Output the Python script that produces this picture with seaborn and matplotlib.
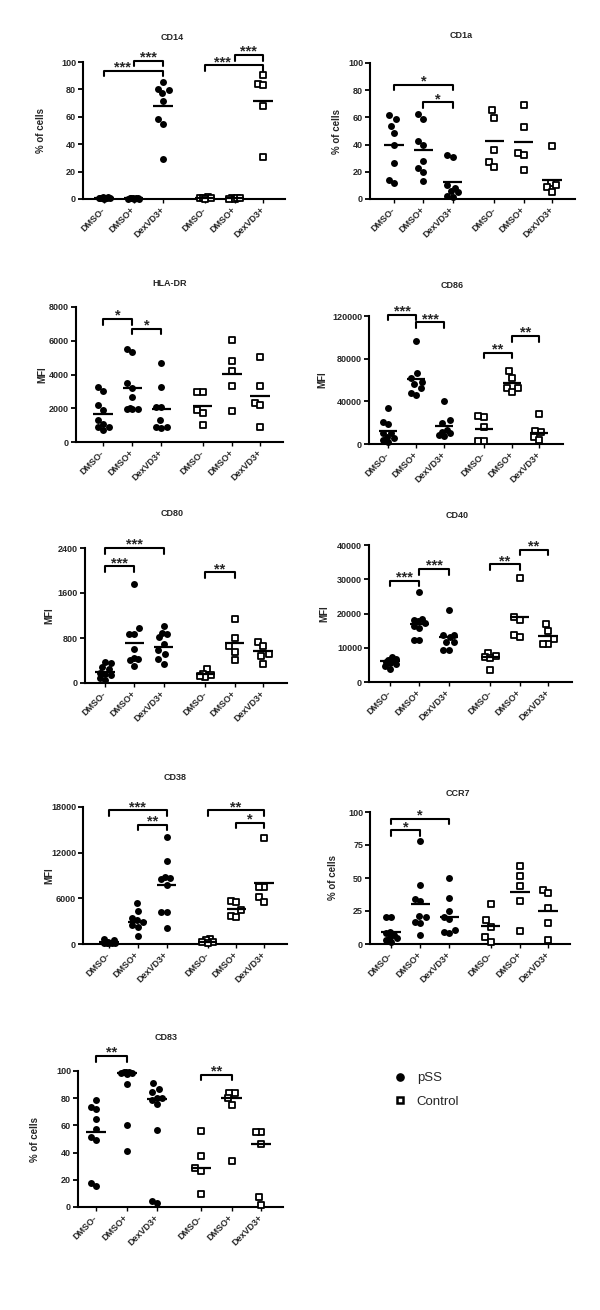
import warnings
warnings.filterwarnings("ignore")
import numpy as np
import pandas as pd
import matplotlib
matplotlib.use("Agg")
import matplotlib.pyplot as plt
from matplotlib.lines import Line2D
import seaborn as sns

CONDITIONS = ["DMSO-", "DMSO+", "DexVD3+"]
GROUPS = ["pSS", "Control"]

# ---------------- data ----------------
CD14_PSS = [[1.5, 0.5, 1.0, 0.3, 0.8, 1.2, 0.4, 0.6],
            [0.5, 0.3, 0.8, 0.2, 0.6, 0.4, 0.7, 0.3],
            [85.5, 80.0, 79.4, 77.5, 71.7, 58.4, 55.0, 29.3]]
CD14_CTRL = [[1.5, 0.8, 0.5, 1.0, 0.3],
             [0.5, 0.3, 0.2, 0.6, 0.4],
             [90.3, 84.3, 83.0, 68.0, 30.5]]
CD14_LINES = [0.9, 0.5, 67.8, 0.8, 0.4, 71.7]
CD14_TICKS = [0, 20, 40, 60, 80, 100]
CD14_SIG = [(0, 2, 93.5, "***"), (1, 2, 101.0, "***"), (3, 5, 97.6, "***"), (4, 5, 105.0, "***")]

CD1A_PSS = [[59, 62, 54, 48.5, 40, 26.5, 11.8, 13.7],
            [62.5, 59, 42.4, 39.5, 27.7, 22.8, 19.9, 13.5],
            [31, 32, 10, 8, 6, 5, 2, 1.5]]
CD1A_CTRL = [[59.6, 65.2, 36.3, 27.2, 23.3],
             [69, 52.7, 34, 32, 21],
             [39.2, 11.5, 10, 9, 4.9]]
CD1A_LINES = [39.5, 35.8, 12.3, 42.4, 41.7, 14.2]
CD1A_TICKS = [0, 20, 40, 60, 80, 100]
CD1A_SIG = [(0, 2, 84, "*"), (1, 2, 71, "*")]

HLADR_PSS = [[3016, 3274, 2182, 1924, 1290, 1091, 893, 893, 694],
             [5496, 5357, 3472, 3174, 2639, 1984, 1984, 1950, 2000],
             [4662, 3234, 2083, 2083, 1290, 893, 893, 850]]
HLADR_CTRL = [[2936, 2936, 1885, 1726, 992],
              [6051, 4821, 4206, 3333, 1825],
              [5020, 3333, 2321, 2182, 893]]
HLADR_LINES = [1686, 3174, 1944, 2123, 4008, 2738]
HLADR_TICKS = [0, 2000, 4000, 6000, 8000]
HLADR_SIG = [(0, 1, 7281, "*"), (1, 2, 6706, "*")]

CD86_PSS = [[34063, 20313, 18438, 10625, 10000, 6875, 3750, 2188, 5313],
            [96563, 66250, 61563, 58438, 56250, 52188, 45938, 47500],
            [40313, 22500, 19375, 13125, 11563, 8438, 7500, 10000]]
CD86_CTRL = [[25000, 26250, 16250, 2813, 2813],
             [68438, 61563, 52813, 52188, 49063],
             [28125, 11000, 12500, 7000, 3500]]
CD86_LINES = [12500, 60938, 16875, 14063, 56875, 10625]
CD86_TICKS = [0, 40000, 80000, 120000]
CD86_SIG = [(0, 1, 120938, "***"), (1, 2, 114063, "***"), (3, 4, 85625, "**"), (4, 5, 101250, "**")]

CD80_PSS = [[375, 357, 286, 256, 179, 155, 95, 48, 137],
            [1757, 983, 869, 869, 596, 453, 435, 417, 298],
            [1018, 881, 869, 810, 691, 584, 524, 435, 345]]
CD80_CTRL = [[244, 155, 137, 107, 119],
             [1131, 792, 655, 548, 405],
             [732, 661, 512, 482, 345]]
CD80_LINES = [197, 715, 643, 167, 715, 566]
CD80_TICKS = [0, 800, 1600, 2400]
CD80_SIG = [(0, 2, 2400, "***"), (0, 1, 2072, "***"), (3, 4, 1965, "**")]

CD40_PSS = [[7282, 6699, 6505, 5728, 5534, 5340, 4563, 3786, 6000],
            [26408, 18447, 17961, 17185, 16408, 15728, 12136, 12330, 17670],
            [21068, 13786, 13786, 13107, 11650, 11650, 9417, 9417]]
CD40_CTRL = [[8447, 7476, 7200, 6990, 3398],
             [30291, 18932, 17961, 13786, 13010],
             [16990, 14757, 12524, 11068, 11068]]
CD40_LINES = [6020, 16990, 13107, 7282, 18932, 13301]
CD40_TICKS = [0, 10000, 20000, 30000, 40000]
CD40_SIG = [(0, 1, 29612, "***"), (1, 2, 32913, "***"), (3, 4, 34369, "**"), (4, 5, 38544, "**")]

CD38_PSS = [[612, 524, 306, 218, 175, 87, 87, 175, 130],
            [5418, 4369, 3364, 3146, 2927, 2490, 2185, 1049],
            [14068, 10879, 8694, 8825, 8476, 7733, 4151, 4151, 2053]]
CD38_CTRL = [[612, 524, 306, 218, 87],
             [5680, 5500, 4456, 3670, 3583],
             [13981, 7427, 7427, 6204, 5549]]
CD38_LINES = [218, 2927, 7733, 306, 4544, 7952]
CD38_TICKS = [0, 6000, 12000, 18000]
CD38_SIG = [(0, 2, 17563, "***"), (1, 2, 15685, "**"), (3, 5, 17563, "**"), (4, 5, 15903, "*")]

CCR7_PSS = [[20.3, 20.3, 9.4, 8.1, 5.6, 4.3, 3.0, 1.8, 6.8],
            [77.7, 44.8, 33.9, 32.9, 21.3, 20.8, 17.0, 16.2, 6.8],
            [49.9, 34.7, 25.3, 20.8, 18.7, 10.6, 8.1, 9.4]]
CCR7_CTRL = [[30.4, 18.2, 13.2, 5.6, 1.3],
             [59.2, 51.6, 44.0, 32.9, 10.1],
             [41.0, 39.0, 27.6, 15.7, 3.0]]
CCR7_LINES = [9.4, 30.1, 20.8, 13.9, 39.7, 25.1]
CCR7_TICKS = [0, 25, 50, 75, 100]
CCR7_SIG = [(0, 2, 94.7, "*"), (0, 1, 86.1, "*")]

CD83_PSS = [[15.4, 17.6, 57.6, 49.0, 51.5, 64.5, 73.5, 72.3, 78.4],
            [99.5, 99.0, 98.8, 98.5, 99.2, 98.0, 90.7, 60.0, 40.9],
            [87.0, 91.2, 84.6, 80.4, 80.4, 78.9, 75.5, 56.4, 2.9, 4.4]]
CD83_CTRL = [[55.6, 37.5, 28.7, 26.2, 9.8],
             [83.8, 84.0, 80.4, 75.2, 33.6],
             [55.1, 55.1, 46.1, 7.4, 1.7]]
CD83_LINES = [55.0, 98.5, 79.7, 28.9, 80.4, 46.1]
CD83_TICKS = [0, 20, 40, 60, 80, 100]
CD83_SIG = [(0, 1, 111, "**"), (3, 4, 97.3, "**")]

PANELS = [
    ("CD14", "% of cells", CD14_PSS, CD14_CTRL, CD14_LINES, CD14_TICKS, CD14_SIG),
    ("CD1a", "% of cells", CD1A_PSS, CD1A_CTRL, CD1A_LINES, CD1A_TICKS, CD1A_SIG),
    ("HLA-DR", "MFI", HLADR_PSS, HLADR_CTRL, HLADR_LINES, HLADR_TICKS, HLADR_SIG),
    ("CD86", "MFI", CD86_PSS, CD86_CTRL, CD86_LINES, CD86_TICKS, CD86_SIG),
    ("CD80", "MFI", CD80_PSS, CD80_CTRL, CD80_LINES, CD80_TICKS, CD80_SIG),
    ("CD40", "MFI", CD40_PSS, CD40_CTRL, CD40_LINES, CD40_TICKS, CD40_SIG),
    ("CD38", "MFI", CD38_PSS, CD38_CTRL, CD38_LINES, CD38_TICKS, CD38_SIG),
    ("CCR7", "% of cells", CCR7_PSS, CCR7_CTRL, CCR7_LINES, CCR7_TICKS, CCR7_SIG),
    ("CD83", "% of cells", CD83_PSS, CD83_CTRL, CD83_LINES, CD83_TICKS, CD83_SIG),
]

# ---------------- layout (pixels) ----------------
W, H = 600, 1310
POS = [0.0, 1.0, 2.0, 3.42, 4.42, 5.38]
# left, right, top, bottom, first category px, last category px, title y, ylabel x
LAYOUT = {
    "CD14":   (83, 285, 62, 199, 104, 263, 38, 42),
    "CD1a":   (370, 575, 63, 199, 394, 552, 35, 338),
    "HLA-DR": (76, 283, 307, 442, 103, 260, 284, 43),
    "CD86":   (369, 563, 316, 444, 388, 539, 285, 323),
    "CD80":   (85, 287, 548, 683, 105, 263, 513, 50),
    "CD40":   (369, 572, 545, 682, 390, 548, 515, 325),
    "CD38":   (83, 287, 807, 944, 109, 264, 777, 50),
    "CCR7":   (370, 570, 812, 944, 391, 548, 793, 333),
    "CD83":   (78, 283, 1071, 1207, 96, 261, 1037, 35),
}
STAR_SHIFT = {("CD14", 0): -0.37, ("CD14", 2): -0.4}
DOT_D = 8.0       # px, preferred centre distance in the swarm
SWARM_HALF = 5.5  # px, maximum sideways spread of a swarm

sns.set_style("ticks")
FONT = ["Liberation Sans", "DejaVu Sans"]
plt.rcParams["font.family"] = FONT
plt.rcParams["font.weight"] = "bold"
plt.rcParams["axes.labelweight"] = "bold"

fig = plt.figure(figsize=(W / 100, H / 100), dpi=100)
fig.patch.set_facecolor("white")


def swarm_offsets(values, ypx):
    """Compact deterministic beeswarm: sideways offsets in pixels."""
    ys = np.asarray(values, float) * ypx
    cands = np.arange(-SWARM_HALF, SWARM_HALF + 0.01, 0.5)
    cands = cands[np.argsort(np.abs(cands), kind="stable")]
    placed, out = [], np.zeros(len(ys))
    for idx in np.argsort(ys, kind="stable"):
        y = ys[idx]
        best, bestd = 0.0, -1.0
        for c in cands:
            md = min((np.hypot(c - px, y - py) for px, py in placed), default=np.inf)
            if md >= DOT_D:
                best = c
                break
            if md > bestd + 1e-9:
                best, bestd = c, md
        out[idx] = best
        placed.append((best, y))
    return out


def long_form(groups, positions, xpx, ypx):
    xs, vs = [], []
    for p, v in zip(positions, groups):
        off = swarm_offsets(v, ypx) / xpx
        xs.append(p + off)
        vs.append(np.asarray(v, float))
    return pd.DataFrame({"x": np.concatenate(xs), "value": np.concatenate(vs)})


for name, ylab, pss, ctrl, lines, ticks, sig in PANELS:
    L, R, T, B, c0, c5, ty, lx = LAYOUT[name]
    ax = fig.add_axes([L / W, 1 - B / H, (R - L) / W, (B - T) / H])
    ax.set_facecolor("white")
    s = (c5 - c0) / POS[5]
    ymax = ticks[-1]
    ypx = (B - T) / ymax

    sns.scatterplot(data=long_form(pss, POS[:3], s, ypx), x="x", y="value",
                    color="black", marker="o", s=5.0 ** 2, linewidth=0, ax=ax,
                    clip_on=False, zorder=3, legend=False)
    sns.scatterplot(data=long_form(ctrl, POS[3:], s, ypx), x="x", y="value",
                    color="white", edgecolor="black", marker="s", s=4.8 ** 2,
                    linewidth=1.3, ax=ax, clip_on=False, zorder=3, legend=False)

    pos = np.array(POS)
    ax.hlines(lines, pos - 0.33, pos + 0.33, colors="black", lw=1.6, zorder=4,
              clip_on=False)

    ax.set_xlim((L - c0) / s, (R - c0) / s)
    ax.set_ylim(0, ymax)
    ax.set_xticks(POS)
    ax.set_xticklabels(CONDITIONS * 2, rotation=45, ha="right", va="center",
                       rotation_mode="anchor", fontsize=6.5, fontweight="bold")
    ax.set_yticks(ticks)
    ax.set_yticklabels([str(t) for t in ticks], fontsize=6.5, fontweight="bold")
    ax.tick_params(axis="y", length=3.5, width=1.3, pad=1.5, color="black")
    ax.tick_params(axis="x", length=3, width=1.0, pad=4, color="black")
    ax.set_xlabel("")
    ax.set_ylabel(ylab, fontsize=7, fontweight="bold")
    ax.yaxis.set_label_coords((lx + 4.5 - L) / (R - L), 0.5)
    sns.despine(ax=ax)
    for sp in ("left", "bottom"):
        ax.spines[sp].set_linewidth(1.5)
        ax.spines[sp].set_color("black")

    ax.annotate(name, xy=(2.3, H - ty), xycoords=("data", "figure pixels"),
                ha="center", va="center", fontsize=6.5, fontweight="bold")

    leg = 5.5 / (B - T) * ymax
    for k, (i, j, y, lab) in enumerate(sig):
        ax.plot([POS[i], POS[i], POS[j], POS[j]], [y - leg, y, y, y - leg],
                color="black", lw=1.5, clip_on=False, zorder=5)
        dx = STAR_SHIFT.get((name, k), 0.0)
        ax.annotate(lab, xy=((POS[i] + POS[j]) / 2 + dx, y), xytext=(0, -0.5),
                    textcoords="offset points", ha="center", va="baseline",
                    fontsize=10.5, fontweight="bold", annotation_clip=False)

handles = [Line2D([], [], ls="", marker="o", markersize=5.2, color="black"),
           Line2D([], [], ls="", marker="s", markersize=5.0, mfc="white",
                  mec="black", mew=1.8)]
fig.legend(handles, GROUPS, loc="upper left", bbox_to_anchor=(393 / W, 1 - 1072 / H),
           frameon=False, handlelength=1.0, handletextpad=0.8, labelspacing=0.85,
           borderpad=0, borderaxespad=0,
           prop={"family": FONT, "size": 9.5, "weight": "normal"})

fig.savefig("out.png", dpi=100, facecolor="white")
